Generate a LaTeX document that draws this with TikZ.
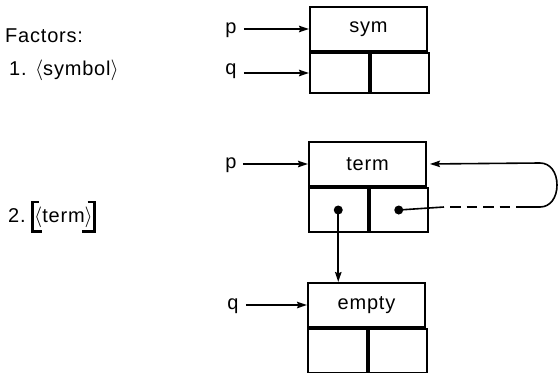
\documentclass[tikz,border=0pt]{standalone}
\usepackage{fontspec}
\setmainfont{Liberation Sans}[LetterSpace=4]
\usetikzlibrary{arrows.meta,calc}
\begin{document}
\begin{tikzpicture}[x=1pt,y=-1pt,
  every node/.style={font=\fontsize{20}{23}\selectfont},
  topcell/.style={draw,line width=2pt,minimum width=117pt,minimum height=44pt,inner sep=0pt,anchor=north west},
  halfcell/.style={draw,line width=2pt,minimum width=58.5pt,minimum height=44pt,inner sep=0pt,anchor=north west},
  lbl/.style={inner sep=0pt,anchor=base},
  ptr/.style={line width=1.6pt,-{Stealth[length=10pt,width=6.5pt,inset=1.5pt]}},
  conn/.style={line width=1.6pt},
  dot/.style={circle,fill,inner sep=0pt,minimum size=9pt}]
\useasboundingbox (0,0) rectangle (559,372);

% left texts
\node[inner sep=0pt,anchor=base west] (fac) at (5,42.7) {Factors:};
\node[inner sep=0pt,anchor=base west] (one) at (9,75) {1. $\langle$symbol$\rangle$};
\node[inner sep=0pt,anchor=base west] (two) at (8,222) {2.};
\node[inner sep=0pt,anchor=base west] (trm) at (34,222) {$\langle$term$\rangle$};
\draw[line width=2.2pt] (38.5,202) -- (32.5,202) -- (32.5,231.5) -- (42,231.5);
\draw[line width=2.2pt] (87.5,202) -- (94.5,202) -- (94.5,231.5) -- (81.5,231.5);

% box 1
\node[topcell] (sym) at (309,6) {sym};
\node[halfcell,minimum height=40pt] (symL) at (sym.south west) {};
\node[halfcell,minimum height=40pt] (symR) at (symL.north east) {};
\node[lbl] (p1) at (231,33.5) {p};
\node[lbl] (q1) at (231,74.5) {q};
\draw[ptr] ($(p1.east |- sym.west)+(7,0)$) -- (sym.west);
\draw[ptr] ($(q1.east |- symL.west)+(7,0)$) -- (symL.west);

% box 2
\node[topcell] (term) at (308,141) {term};
\node[halfcell] (termL) at (term.south west) {};
\node[halfcell] (termR) at (termL.north east) {};
\node[lbl] (p2) at (231,168.5) {p};
\draw[ptr] ($(p2.east |- term.west)+(6,0)$) -- (term.west);

% box 3
\node[topcell] (empty) at (307,282) {empty};
\node[halfcell] (emptyL) at (empty.south west) {};
\node[halfcell] (emptyR) at (emptyL.north east) {};
\node[lbl] (q2) at (233,309.5) {q};
\draw[ptr] ($(q2.east |- empty.west)+(7,0)$) -- (empty.west);

% pointers
\node[dot] (d1) at (termL.center) {};
\node[dot] (d2) at (termR.center) {};
\draw[ptr] (d1.center) -- (d1 |- empty.north);

\coordinate (s1) at (444,207);
\coordinate (s2) at (450,207);
\coordinate (s3) at (510,207);
\coordinate (s4) at (516,207);
\coordinate (top) at (540,163);
\draw[conn] (d2.center) -- (s1);
\draw[conn,dash pattern=on 10.5pt off 6pt] (s2) -- (s3);
\draw[ptr,shorten >=3pt] (s4) -- (540,207) .. controls (550,207) and (557,198) .. (557,185)
   .. controls (557,172) and (550,163) .. (top) -- (term.east);
\end{tikzpicture}
\end{document}
